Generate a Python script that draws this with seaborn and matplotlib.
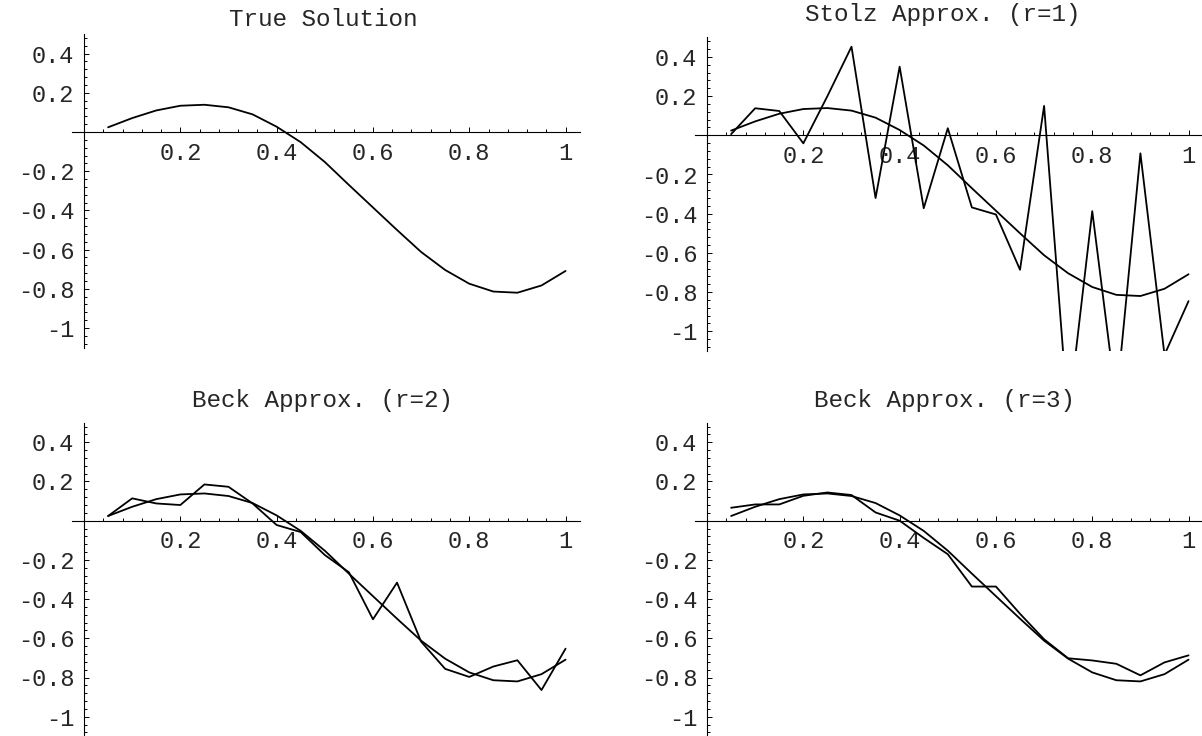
import numpy as np
import matplotlib
matplotlib.use("Agg")
import matplotlib.pyplot as plt
import seaborn as sns
from matplotlib.ticker import MultipleLocator, FixedLocator

# sample points t = 0.05 .. 1.0
t = [0.05, 0.10, 0.15, 0.20, 0.25, 0.30, 0.35, 0.40, 0.45, 0.50,
     0.55, 0.60, 0.65, 0.70, 0.75, 0.80, 0.85, 0.90, 0.95, 1.00]

true_sol = [0.024, 0.071, 0.110, 0.134, 0.139, 0.126, 0.090, 0.027, -0.052, -0.153,
            -0.270, -0.385, -0.500, -0.612, -0.704, -0.774, -0.814, -0.820, -0.783, -0.709]

stolz_r1 = [0.006, 0.138, 0.124, -0.041, 0.200, 0.452, -0.320, 0.350, -0.372, 0.036,
            -0.368, -0.404, -0.686, 0.150, -1.440, -0.387, -1.360, -0.092, -1.120, -0.846]

beck_r2 = [0.024, 0.114, 0.088, 0.080, 0.185, 0.173, 0.088, -0.022, -0.058, -0.175,
           -0.263, -0.503, -0.316, -0.617, -0.756, -0.797, -0.744, -0.712, -0.864, -0.653]

beck_r3 = [0.066, 0.083, 0.083, 0.127, 0.144, 0.131, 0.042, 0.000, -0.088, -0.171,
           -0.336, -0.336, -0.475, -0.605, -0.702, -0.713, -0.730, -0.789, -0.723, -0.687]

titles = ["True Solution", "Stolz Approx. (r=1)", "Beck Approx. (r=2)", "Beck Approx. (r=3)"]
approx = [None, stolz_r1, beck_r2, beck_r3]

xticks = [0.2, 0.4, 0.6, 0.8, 1.0]
xticklabels = ["0.2", "0.4", "0.6", "0.8", "1"]
yticks = [0.4, 0.2, -0.2, -0.4, -0.6, -0.8, -1.0]
yticklabels = ["0.4", "0.2", "-0.2", "-0.4", "-0.6", "-0.8", "-1"]

sns.set_style("white")
plt.rcParams['font.family'] = ['Liberation Mono', 'DejaVu Sans Mono']

W, H = 1202, 736
fig = plt.figure(figsize=(W / 100, H / 100), dpi=100)

# axes boxes in pixels: left, top, width, height
boxes = [(72, 34, 508, 313.6), (695, 37.3, 508, 313.6),
         (72, 422.7, 508, 313.6), (695, 422.7, 508, 313.6)]
title_pos = [(323, 19), (943, 15), (323, 400), (944, 400)]

for i in range(4):
    l, tp, w, h = boxes[i]
    ax = fig.add_axes([l / W, 1 - (tp + h) / H, w / W, h / H])
    ax.set_facecolor('none')

    sns.lineplot(x=t, y=true_sol, ax=ax, color='black', lw=1.3)
    if approx[i] is not None:
        sns.lineplot(x=t, y=approx[i], ax=ax, color='black', lw=1.3)

    ax.set_xlim(-0.025, 1.03)
    ax.set_ylim(-1.1, 0.5)

    for side in ['top', 'right']:
        ax.spines[side].set_visible(False)
    for side in ['left', 'bottom']:
        ax.spines[side].set_position(('data', 0))
        ax.spines[side].set_color('black')
        ax.spines[side].set_linewidth(0.8)

    ax.xaxis.set_major_locator(FixedLocator(xticks))
    ax.set_xticklabels(xticklabels)
    ax.yaxis.set_major_locator(FixedLocator(yticks))
    ax.set_yticklabels(yticklabels)
    ax.xaxis.set_minor_locator(MultipleLocator(0.04))
    ax.yaxis.set_minor_locator(MultipleLocator(0.04))

    ax.tick_params(which='both', direction='in', color='black', width=0.7,
                   bottom=True, left=True, top=False, right=False,
                   labelsize=17, pad=7)
    ax.tick_params(which='major', length=3.5)
    ax.tick_params(which='minor', length=2.0)
    ax.set_xlabel('')
    ax.set_ylabel('')

    fig.text(title_pos[i][0] / W, 1 - title_pos[i][1] / H, titles[i],
             ha='center', va='center', fontsize=17.5)

fig.savefig("out.png", dpi=100)
